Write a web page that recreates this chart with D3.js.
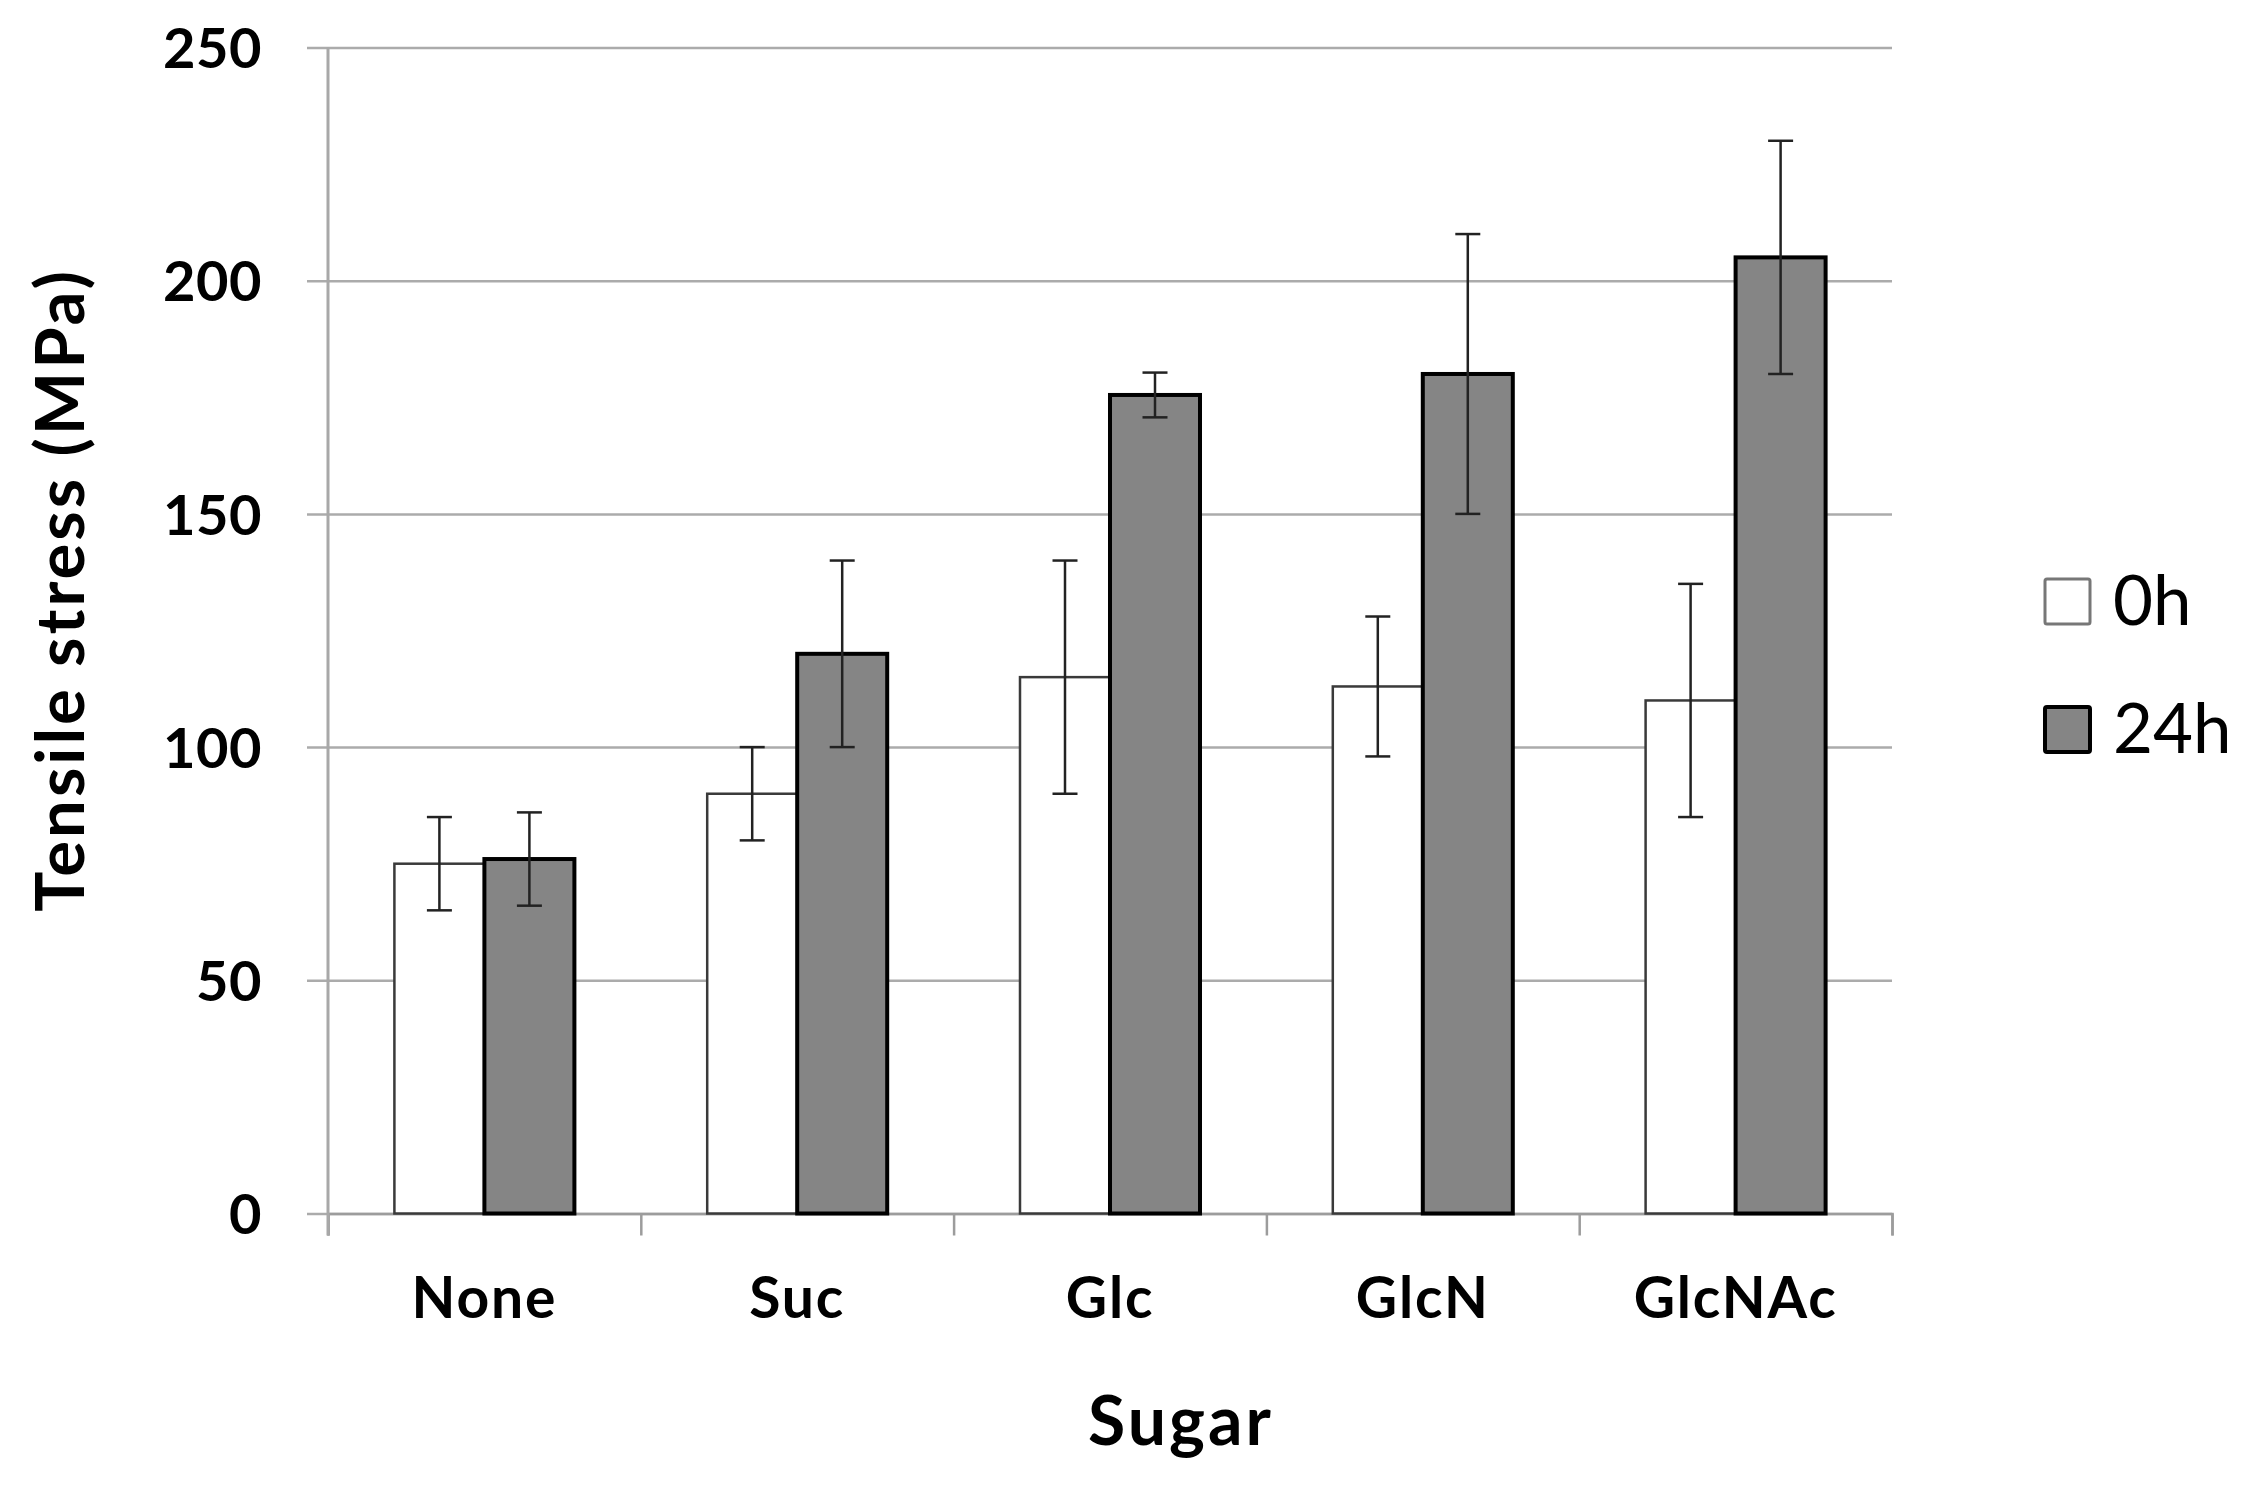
<!DOCTYPE html>
<html>
<head>
<meta charset="utf-8">
<script src="https://cdn.jsdelivr.net/npm/d3@7"></script>
<style>
  body { margin: 0; background: #fff; }
  text { font-family: Lato, "Open Sans", sans-serif; fill: #000; }
  .tick-label { font-weight: 700; }
</style>
</head>
<body>
<div id="chart-area"></div>
<script>
const categories = ["None", "Suc", "Glc", "GlcN", "GlcNAc"];
const seriesNames = ["0h", "24h"];
const mean0h = [75, 90, 115, 113, 110];
const err0h = [10, 10, 25, 15, 25];
const mean24h = [76, 120, 175.5, 180, 205];
const err24h = [10, 20, 4.8, 30, 25];
const yTicks = [0, 50, 100, 150, 200, 250];

const margin = { top: 47.5, right: 359, bottom: 271.5, left: 328 };
const width = 2251 - margin.left - margin.right;
const height = 1485 - margin.top - margin.bottom;

const rows = categories.map((c, i) => ({
  category: c,
  values: [
    { series: "0h", value: mean0h[i], err: err0h[i] },
    { series: "24h", value: mean24h[i], err: err24h[i] }
  ]
}));

const svg = d3.select("#chart-area")
  .append("svg")
  .attr("width", 2251)
  .attr("height", 1485);

const g = svg.append("g")
  .attr("transform", `translate(${margin.left}, ${margin.top})`);

const x0 = d3.scaleBand()
  .domain(categories)
  .range([0, width])
  .padding(0);

const barW = 90;
const x1 = d3.scaleBand()
  .domain(seriesNames)
  .range([x0.bandwidth() / 2 - barW, x0.bandwidth() / 2 + barW]);

const y = d3.scaleLinear()
  .domain([0, 250])
  .range([height, 0]);

const fill = d3.scaleOrdinal().domain(seriesNames).range(["#ffffff", "#858585"]);
const stroke = d3.scaleOrdinal().domain(seriesNames).range(["#3a3a3a", "#000000"]);
const strokeW = d3.scaleOrdinal().domain(seriesNames).range([2.5, 4]);

// gridlines + y tick labels
const yAxisGroup = g.append("g")
  .attr("transform", "translate(-21, 0)")
  .call(d3.axisLeft(y)
    .tickValues(yTicks)
    .tickSize(-(width + 21))
    .tickPadding(45));

yAxisGroup.select(".domain").remove();
yAxisGroup.selectAll(".tick line")
  .attr("stroke", "#ababab")
  .attr("stroke-width", 2.5);
yAxisGroup.selectAll(".tick text")
  .attr("class", "tick-label")
  .attr("font-size", 56)
  .attr("letter-spacing", 0.5)
  .attr("dy", "0.36em");

// category boundary ticks
const bounds = d3.scaleLinear().domain([0, categories.length]).range([0, width]);
const xTickGroup = g.append("g")
  .attr("transform", `translate(0, ${height})`)
  .call(d3.axisBottom(bounds)
    .tickValues(d3.range(categories.length + 1))
    .tickFormat("")
    .tickSize(22));
xTickGroup.selectAll("line, path")
  .attr("stroke", "#9c9c9c")
  .attr("stroke-width", 2.5);

// y axis line
g.append("line")
  .attr("x1", 0).attr("x2", 0)
  .attr("y1", 0).attr("y2", height + 22)
  .attr("stroke", "#a8a8a8")
  .attr("stroke-width", 3);

// bars
const groups = g.selectAll(".cat")
  .data(rows)
  .enter()
  .append("g")
  .attr("class", "cat")
  .attr("transform", d => `translate(${x0(d.category)}, 0)`);

groups.selectAll("rect")
  .data(d => d.values)
  .enter()
  .append("rect")
  .attr("x", d => x1(d.series))
  .attr("y", d => y(d.value))
  .attr("width", x1.bandwidth())
  .attr("height", d => height - y(d.value))
  .attr("fill", d => fill(d.series))
  .attr("stroke", d => stroke(d.series))
  .attr("stroke-width", d => strokeW(d.series));

// error bars
const capW = 25;
const errs = groups.selectAll(".err")
  .data(d => d.values)
  .enter()
  .append("g")
  .attr("class", "err")
  .attr("stroke", "#222")
  .attr("stroke-width", 2.5);

errs.append("line")
  .attr("x1", d => x1(d.series) + x1.bandwidth() / 2)
  .attr("x2", d => x1(d.series) + x1.bandwidth() / 2)
  .attr("y1", d => y(d.value + d.err))
  .attr("y2", d => y(d.value - d.err));

errs.append("line")
  .attr("x1", d => x1(d.series) + x1.bandwidth() / 2 - capW / 2)
  .attr("x2", d => x1(d.series) + x1.bandwidth() / 2 + capW / 2)
  .attr("y1", d => y(d.value + d.err))
  .attr("y2", d => y(d.value + d.err));

errs.append("line")
  .attr("x1", d => x1(d.series) + x1.bandwidth() / 2 - capW / 2)
  .attr("x2", d => x1(d.series) + x1.bandwidth() / 2 + capW / 2)
  .attr("y1", d => y(d.value - d.err))
  .attr("y2", d => y(d.value - d.err));

// category labels
const xAxisGroup = g.append("g")
  .attr("transform", `translate(0, ${height})`)
  .call(d3.axisBottom(x0).tickSize(0).tickPadding(64));
xAxisGroup.select(".domain").remove();
xAxisGroup.selectAll(".tick text")
  .attr("class", "tick-label")
  .attr("font-size", 57)
  .attr("letter-spacing", 1.8);

// axis titles
svg.append("text")
  .attr("x", 1181)
  .attr("y", 1445)
  .attr("text-anchor", "middle")
  .attr("font-size", 68)
  .attr("font-weight", 700)
  .attr("letter-spacing", 3)
  .text("Sugar");

svg.append("text")
  .attr("transform", "translate(84, 590) rotate(-90)")
  .attr("text-anchor", "middle")
  .attr("font-size", 67)
  .attr("font-weight", 700)
  .attr("letter-spacing", 3)
  .text("Tensile stress (MPa)");

// legend
const legend = svg.append("g")
  .attr("transform", "translate(2045, 579)");

seriesNames.forEach((s, i) => {
  const row = legend.append("g")
    .attr("transform", `translate(0, ${i * 128})`);

  row.append("rect")
    .attr("width", 45)
    .attr("height", 45)
    .attr("rx", 2)
    .attr("fill", fill(s))
    .attr("stroke", i === 0 ? "#777" : "#000")
    .attr("stroke-width", i === 0 ? 3 : 4);

  row.append("text")
    .attr("x", 68)
    .attr("y", 46)
    .attr("font-size", 69)
    .text(s);
});
</script>
</body>
</html>
